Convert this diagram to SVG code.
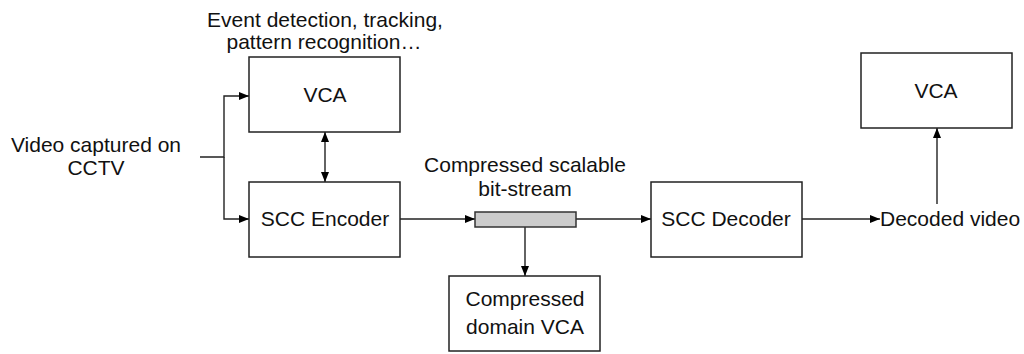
<svg xmlns="http://www.w3.org/2000/svg" width="1024" height="354" viewBox="0 0 1024 354">
<defs>
<marker id="ah" viewBox="0 0 10 8" refX="10" refY="4" markerWidth="10" markerHeight="8" markerUnits="userSpaceOnUse" orient="auto-start-reverse">
<path d="M0,0 L10,4 L0,8 Z" fill="#000"/>
</marker>
<style>
.box{fill:#fff;stroke:#222;stroke-width:1.5}
.bar{fill:#cccccc;stroke:#333;stroke-width:1.5}
.t{font-family:"Liberation Sans",Arial,sans-serif;font-size:21px;fill:#111;text-anchor:middle}
.c{fill:none;stroke:#222;stroke-width:1.4}
</style>
</defs>
<rect width="1024" height="354" fill="#fff"/>
<g id="connectors">
<path class="c" d="M200,157 H224 V96 H249" marker-end="url(#ah)"/>
<path class="c" d="M224,157 V219 H249" marker-end="url(#ah)"/>
<path class="c" d="M325,132 V182" marker-start="url(#ah)" marker-end="url(#ah)"/>
<path class="c" d="M400,219 H475" marker-end="url(#ah)"/>
<path class="c" d="M576,219 H651" marker-end="url(#ah)"/>
<path class="c" d="M525,227 V276" marker-end="url(#ah)"/>
<path class="c" d="M802,219 H880" marker-end="url(#ah)"/>
<path class="c" d="M937,204 V128" marker-end="url(#ah)"/>
</g>
<g id="label-events">
<text class="t" x="325" y="27">Event detection, tracking,</text>
<text class="t" x="324" y="49">pattern recognition…</text>
</g>
<g id="label-input">
<text class="t" x="96" y="152">Video captured on</text>
<text class="t" x="96" y="175">CCTV</text>
</g>
<g id="vca1">
<rect class="box" x="249" y="57" width="151" height="75"/>
<text class="t" x="325" y="102">VCA</text>
</g>
<g id="encoder">
<rect class="box" x="249" y="182" width="151" height="75"/>
<text class="t" x="325" y="226">SCC Encoder</text>
</g>
<g id="bitstream">
<text class="t" x="525" y="172">Compressed scalable</text>
<text class="t" x="525" y="196">bit-stream</text>
<rect class="bar" x="475" y="212" width="101" height="15"/>
</g>
<g id="cdvca">
<rect class="box" x="449" y="276" width="151" height="75"/>
<text class="t" x="525" y="306">Compressed</text>
<text class="t" x="525" y="334">domain VCA</text>
</g>
<g id="decoder">
<rect class="box" x="651" y="182" width="151" height="75"/>
<text class="t" x="726" y="226">SCC Decoder</text>
</g>
<g id="decoded">
<text class="t" x="880" y="226" style="text-anchor:start">Decoded video</text>
</g>
<g id="vca2">
<rect class="box" x="861" y="53" width="151" height="75"/>
<text class="t" x="936" y="98">VCA</text>
</g>
</svg>
